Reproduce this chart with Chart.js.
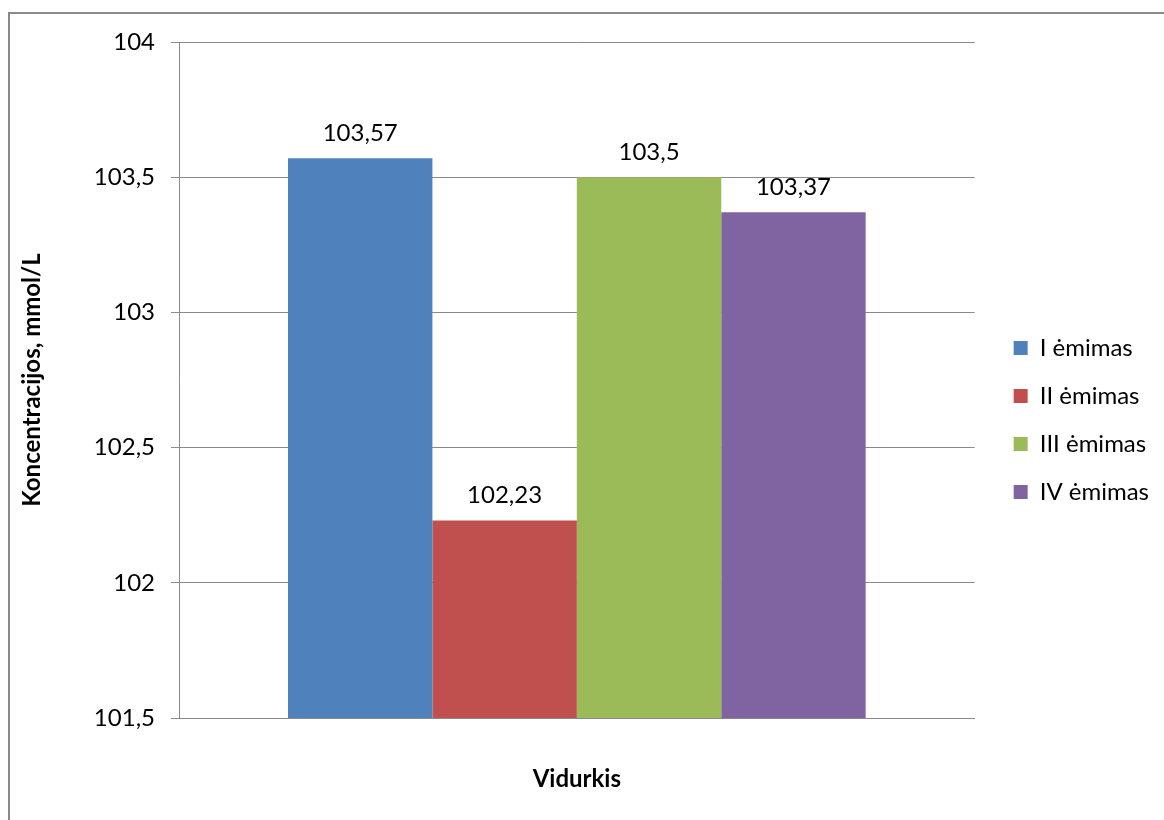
<!DOCTYPE html>
<html>
<head>
<meta charset="utf-8">
<script src="https://cdn.jsdelivr.net/npm/chart.js@4"></script>
<style>
  html, body { margin: 0; padding: 0; background: #fff; }
  #wrap { position: relative; width: 1164px; height: 820px; overflow: hidden; }
  #frame { position: absolute; left: 8px; top: 12px; width: 1300px; height: 900px; border: 2px solid #8a8a8a; box-sizing: border-box; }
  #chart { position: absolute; left: 0; top: 0; }
</style>
</head>
<body>
<div id="wrap">
  <div id="frame"></div>
  <canvas id="chart" width="1164" height="820"></canvas>
</div>
<script>
// Concentration averages per sampling
const categories = ['Vidurkis'];
const seriesNames = ['I ėmimas', 'II ėmimas', 'III ėmimas', 'IV ėmimas'];
const seriesValues = [103.57, 102.23, 103.5, 103.37];
const seriesColors = ['#4F81BD', '#C0504D', '#9BBB59', '#8064A2'];
const yTicks = [101.5, 102, 102.5, 103, 103.5, 104];

const fontFamily = "Lato, 'Open Sans', sans-serif";
const fontSize = 24;
const comma = v => String(v).replace('.', ',');

// draws value labels above bars, nudges legend away from plot
const valueLabels = {
  id: 'valueLabels',
  afterLayout(chart) {
    const lg = chart.legend;
    lg.left += 15; lg.right += 15;
  },
  afterDatasetsDraw(chart) {
    const ctx = chart.ctx;
    ctx.save();
    ctx.font = `${fontSize}px ${fontFamily}`;
    ctx.fillStyle = '#000';
    ctx.textAlign = 'center';
    ctx.textBaseline = 'middle';
    chart.data.datasets.forEach((ds, i) => {
      chart.getDatasetMeta(i).data.forEach((bar, j) => {
        ctx.fillText(comma(ds.data[j]), bar.x, bar.y - 25);
      });
    });
    ctx.restore();
  }
};

const ctx = document.getElementById('chart').getContext('2d');
new Chart(ctx, {
  type: 'bar',
  data: {
    labels: categories,
    datasets: seriesNames.map((name, i) => ({
      label: name,
      data: [seriesValues[i]],
      backgroundColor: seriesColors[i],
      borderWidth: 0,
      categoryPercentage: 0.726,
      barPercentage: 1
    }))
  },
  options: {
    responsive: false,
    animation: false,
    layout: { padding: { left: 14, top: 42, right: 20, bottom: 22 } },
    plugins: {
      legend: {
        position: 'right',
        labels: {
          boxWidth: 14,
          boxHeight: 14,
          padding: 24,
          color: '#000',
          font: { family: fontFamily, size: fontSize }
        }
      },
      tooltip: { enabled: false }
    },
    scales: {
      x: {
        grid: { display: false },
        border: { color: '#8a8a8a' },
        ticks: { display: false },
        afterFit: axis => { axis.height = 80; },
        title: {
          display: true,
          text: 'Vidurkis',
          color: '#000',
          font: { family: fontFamily, size: fontSize, weight: 'bold' }
        }
      },
      y: {
        min: yTicks[0],
        max: yTicks[yTicks.length - 1],
        afterBuildTicks: axis => { axis.ticks = yTicks.map(v => ({ value: v })); },
        afterFit: axis => { axis.width = 165; },
        grid: { color: '#8a8a8a', tickLength: 8 },
        border: { color: '#8a8a8a' },
        ticks: {
          color: '#000',
          padding: 16,
          font: { family: fontFamily, size: fontSize },
          callback: v => comma(v)
        },
        title: {
          display: true,
          text: 'Koncentracijos, mmol/L',
          color: '#000',
          font: { family: fontFamily, size: fontSize, weight: 'bold' }
        }
      }
    }
  },
  plugins: [valueLabels]
});
</script>
</body>
</html>
